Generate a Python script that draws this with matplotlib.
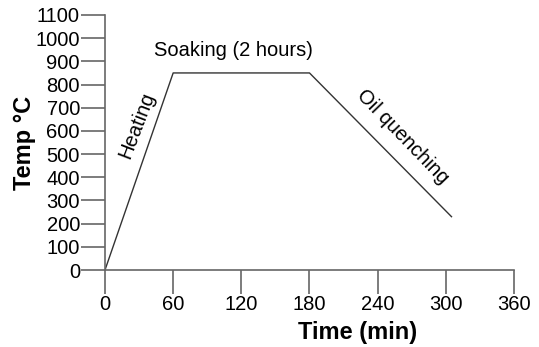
import matplotlib.pyplot as plt
import numpy as np

# heat treatment cycle: heat, soak, quench
time_min = [0, 60, 180, 305]
temp_c = [0, 850, 850, 230]
x_ticks = [0, 60, 120, 180, 240, 300, 360]
y_ticks = list(range(0, 1101, 100))

plt.rcParams['font.family'] = ['Liberation Sans', 'DejaVu Sans']

fig = plt.figure(figsize=(5.39, 3.47), dpi=100)
ax = fig.add_axes([0.1948, 0.2219, 0.7588, 0.7349])

ax.plot(time_min, temp_c, color='#333333', lw=1.0)

ax.set_xlim(0, 360)
ax.set_ylim(0, 1100)
ax.set_xticks(x_ticks)
ax.set_yticks(y_ticks)

for side in ('top', 'right'):
    ax.spines[side].set_visible(False)
for side in ('left', 'bottom'):
    ax.spines[side].set_color('#666666')
    ax.spines[side].set_linewidth(1.2)
ax.tick_params(direction='out', length=17, width=1.2, color='#666666',
               labelsize=14.5, pad=1)

ax.set_xlabel('Time (min)', fontsize=17, fontweight='bold')
ax.xaxis.set_label_coords(0.617, -0.2)
ax.set_ylabel('Temp °C', fontsize=17, fontweight='bold')
ax.yaxis.set_label_coords(-0.168, 0.5)

ax.text(113, 945, 'Soaking (2 hours)', fontsize=14.5, ha='center', va='center')
ax.text(28, 625, 'Heating', fontsize=14.5, ha='center', va='center', rotation=69)
ax.text(262, 574, 'Oil quenching', fontsize=14.5, ha='center', va='center',
        rotation=-46)

fig.savefig('out.png', dpi=100)
